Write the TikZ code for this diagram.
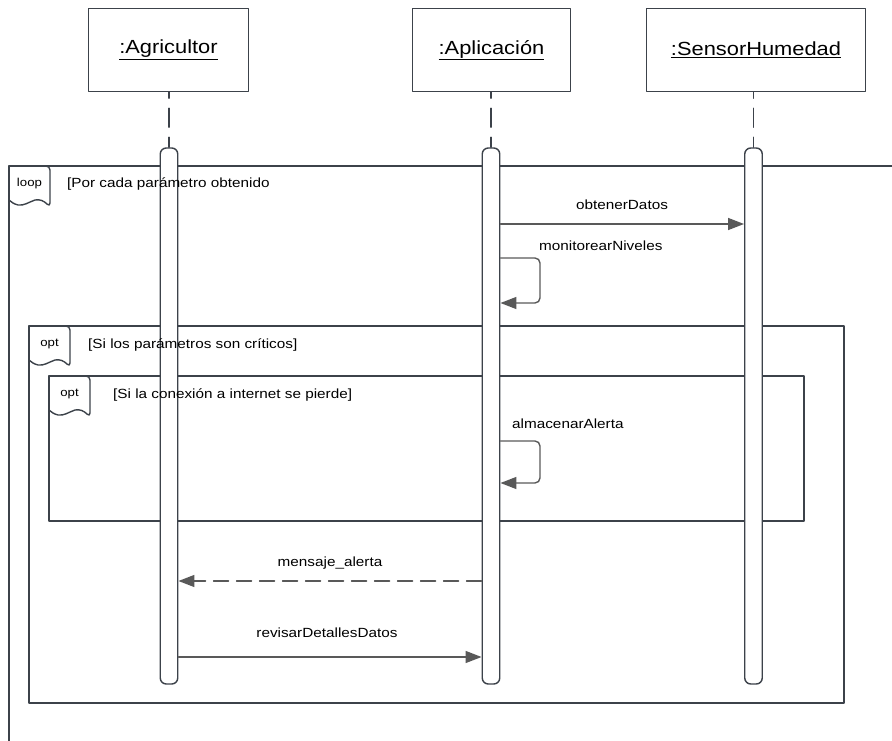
\documentclass[tikz,border=0pt]{standalone}
\usepackage{fontspec}
\setmainfont[FakeStretch=1.15]{Liberation Sans}
\usetikzlibrary{positioning,arrows.meta}
\definecolor{framegray}{HTML}{3C424A}
\definecolor{msggray}{HTML}{595959}

\begin{document}
\begin{tikzpicture}[x=1pt,y=-1pt,line join=round,line cap=round,
    obj/.style={draw=framegray,line width=1.4pt,minimum height=83pt,inner sep=0pt,
      font=\fontsize{19}{22}\selectfont},
    actbar/.style={draw=framegray,fill=white,line width=1.4pt,rounded corners=6pt,
      minimum width=17.5pt,minimum height=536pt,inner sep=0pt},
    life/.style={draw=framegray,line width=1.3pt,dash pattern=on 19pt off 10pt,dash phase=13pt},
    frame/.style={draw=framegray,line width=1.4pt},
    msg/.style={draw=msggray,line width=1.4pt,-{Triangle[length=16pt,width=12pt]}},
    reply/.style={msg,dash pattern=on 15pt off 8pt},
    lbl/.style={font=\fontsize{13.3}{15}\selectfont,inner sep=0pt},
    tagtxt/.style={font=\fontsize{11.5}{13}\selectfont,inner sep=0pt,anchor=base}]
  \useasboundingbox (0,0) rectangle (892,741);

  % combined fragments
  \draw[frame] (892,166) -- (9,166) -- (9,741);
  \draw[frame] (29,326) rectangle (844,703);
  \draw[frame] (49,376) rectangle (804,521);
  \foreach \x/\y/\t [count=\i] in {9/166/loop,29/326/opt,49/376/opt}{
    \draw[frame,rounded corners=4pt] (\x,\y) -| (\x+41,\y+41) [sharp corners]
      .. controls (\x+35,\y+35) and (\x+31,\y+33) .. (\x+26,\y+34)
      .. controls (\x+20,\y+36) and (\x+15,\y+40) .. (\x+9,\y+39)
      .. controls (\x+5,\y+38) and (\x+2,\y+36) .. (\x,\y+34);
    \node[tagtxt] (tag\i) at (\x+20.5,\y+20.5) {\t};
  }

  % objects
  \node[obj,minimum width=160pt] (agr) at (168.5,50) {\underline{:Agricultor}};
  \node[obj,minimum width=158pt] (app) at (491.5,50) {\underline{:Aplicación}};
  \node[obj,minimum width=219pt] (sen) at (756,50) {\underline{:SensorHumedad}};

  \node[actbar] (baragr) at (169,416) {};
  \node[actbar] (barapp) at (491,416) {};
  \node[actbar] (barsen) at (753.5,416) {};

  \draw[life] (agr.south -| baragr) -- (baragr.north);
  \draw[life] (app.south -| barapp) -- (barapp.north);
  \draw[life] (sen.south -| barsen) -- (barsen.north);

  % guards
  \node[lbl,anchor=base west] (g1) at (67,188) {[Por cada parámetro obtenido};
  \node[lbl,anchor=base west] (g2) at (88,348) {[Si los parámetros son críticos]};
  \node[lbl,anchor=base west] (g3) at (113,398) {[Si la conexión a internet se pierde]};

  % messages
  \draw[msg] (barapp.east |- 0,224) -- (barsen.west |- 0,224);
  \node[lbl,anchor=base] (m1) at (622,210) {obtenerDatos};

  \draw[msg,rounded corners=5pt] (barapp.east |- 0,258) -- (540,258) -- (540,303) -- (barapp.east |- 0,303);
  \node[lbl,anchor=base west] (m2) at (539,250) {monitorearNiveles};

  \draw[msg,rounded corners=5pt] (barapp.east |- 0,441) -- (540,441) -- (540,483) -- (barapp.east |- 0,483);
  \node[lbl,anchor=base west] (m3) at (512,428) {almacenarAlerta};

  \draw[reply] (barapp.west |- 0,581) -- (baragr.east |- 0,581);
  \node[lbl,anchor=base] (m4) at (330,566) {mensaje\_alerta};

  \draw[msg] (baragr.east |- 0,657) -- (barapp.west |- 0,657);
  \node[lbl,anchor=base] (m5) at (327,637) {revisarDetallesDatos};
\end{tikzpicture}
\end{document}
